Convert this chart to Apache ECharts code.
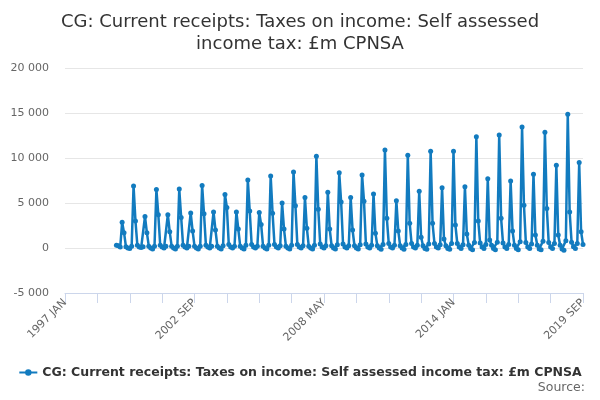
<!DOCTYPE html>
<html lang="en">
<head>
    <meta charset="UTF-8">
    <title>Self assessed income tax</title>
    <script src="https://cdn.jsdelivr.net/npm/echarts@6/dist/echarts.min.js"></script>
</head>
<body style="margin:0">
<div id="main" style="width: 600px;height:400px;"></div>
<script type="text/javascript">
    // x axis runs monthly from 1997 JAN to 2019 SEP
    var firstYear = 1997;
    var lastYear = 2019;
    var lastMonth = 9;
    var monthNames = ['JAN', 'FEB', 'MAR', 'APR', 'MAY', 'JUN', 'JUL', 'AUG', 'SEP', 'OCT', 'NOV', 'DEC'];

    // series starts in 1999 APR, everything before is empty
    var emptyMonths = 27;

    // £m, one row per year (1999 starts at APR, 2019 ends at SEP)
    var y1999 = [300, 250, 100, 2850, 1700, 150, 0, -50, 200];
    var y2000 = [6900, 3000, 300, 100, 50, 150, 3500, 1700, 200, 0, -100, 200];
    var y2001 = [6500, 3700, 300, 100, 0, 200, 3700, 1800, 200, 0, -100, 200];
    var y2002 = [6550, 3400, 300, 100, 0, 200, 3900, 1900, 200, 0, -100, 200];
    var y2003 = [6950, 3800, 300, 100, 0, 200, 4000, 2000, 200, 0, -100, 250];
    var y2004 = [5950, 4500, 400, 100, 0, 200, 4000, 2100, 200, 0, -100, 300];
    var y2005 = [7550, 4100, 400, 100, 0, 200, 3950, 2600, 200, 0, -100, 300];
    var y2006 = [8000, 3850, 400, 100, 0, 250, 5000, 2100, 200, 0, -100, 300];
    var y2007 = [8450, 4700, 400, 100, 0, 250, 5600, 2200, 200, 0, -100, 300];
    var y2008 = [10200, 4300, 450, 100, 0, 250, 6200, 2100, 250, 0, -100, 350];
    var y2009 = [8350, 5100, 450, 100, 0, 250, 5600, 2000, 250, 0, -100, 350];
    var y2010 = [8100, 5200, 450, 100, 0, 300, 6000, 1650, 250, 0, -150, 400];
    var y2011 = [10900, 3300, 500, 100, 0, 300, 5250, 1900, 250, 0, -150, 400];
    var y2012 = [10300, 2750, 500, 100, 0, 300, 6300, 1200, 250, -50, -150, 450];
    var y2013 = [10750, 2750, 500, 100, 0, 350, 6700, 1000, 250, -50, -150, 500];
    var y2014 = [10750, 2550, 500, 100, -50, 350, 6800, 1550, 300, -50, -200, 600];
    var y2015 = [12350, 3000, 550, 100, -50, 400, 7700, 900, 300, -50, -200, 650];
    var y2016 = [12550, 3300, 550, 100, -50, 400, 7450, 1900, 300, -50, -200, 700];
    var y2017 = [13450, 4750, 600, 100, -50, 450, 8200, 1450, 300, -100, -200, 750];
    var y2018 = [12850, 4400, 600, 100, -50, 500, 9200, 1450, 300, -100, -250, 800];
    var y2019 = [14850, 4000, 650, 150, -50, 500, 9500, 1800, 400];

    var seriesName = 'CG: Current receipts: Taxes on income: Self assessed income tax: £m CPNSA';

    var categories = [];
    for (var yr = firstYear; yr <= lastYear; yr++) {
        for (var m = 0; m < 12; m++) {
            if (yr === lastYear && m >= lastMonth) break;
            categories.push(yr + ' ' + monthNames[m]);
        }
    }

    var values = [];
    for (var i = 0; i < emptyMonths; i++) values.push(null);
    values = values.concat(y1999, y2000, y2001, y2002, y2003, y2004, y2005, y2006, y2007,
        y2008, y2009, y2010, y2011, y2012, y2013, y2014, y2015, y2016, y2017, y2018, y2019);

    var chart = echarts.init(document.getElementById('main'));

    var option = {
        animation: false,
        textStyle: {fontFamily: 'DejaVu Sans'},
        title: [{
            text: 'CG: Current receipts: Taxes on income: Self assessed\nincome tax: £m CPNSA',
            left: 'center',
            top: 6,
            textStyle: {fontSize: 18, fontWeight: 'normal', color: '#333', lineHeight: 22}
        }, {
            text: 'Source:',
            right: 10,
            bottom: 1,
            textStyle: {fontSize: 12.5, fontWeight: 'normal', color: '#666'}
        }],
        legend: {
            data: [seriesName],
            bottom: 16,
            left: 'center',
            itemWidth: 18,
            itemHeight: 8,
            textStyle: {fontSize: 12.5, fontWeight: 'bold', color: '#333'}
        },
        grid: {left: 65, right: 17, top: 68, bottom: 107},
        xAxis: {
            type: 'category',
            data: categories,
            boundaryGap: false,
            axisLine: {onZero: false, lineStyle: {color: '#ccd6eb'}},
            axisTick: {interval: 16, length: 10, lineStyle: {color: '#ccd6eb'}},
            axisLabel: {interval: 67, rotate: 45, color: '#666', fontSize: 11}
        },
        yAxis: {
            type: 'value',
            min: -5000,
            max: 20000,
            interval: 5000,
            axisLabel: {
                color: '#666',
                fontSize: 11,
                margin: 16,
                formatter: function (v) {
                    return String(v).replace(/\B(?=(\d{3})+(?!\d))/g, ' ');
                }
            },
            splitLine: {lineStyle: {color: '#e6e6e6'}}
        },
        series: [{
            name: seriesName,
            type: 'line',
            data: values,
            symbol: 'circle',
            symbolSize: 5,
            showAllSymbol: true,
            color: '#127bbf',
            lineStyle: {width: 2.5}
        }]
    };

    chart.setOption(option);
</script>
</body>
</html>
